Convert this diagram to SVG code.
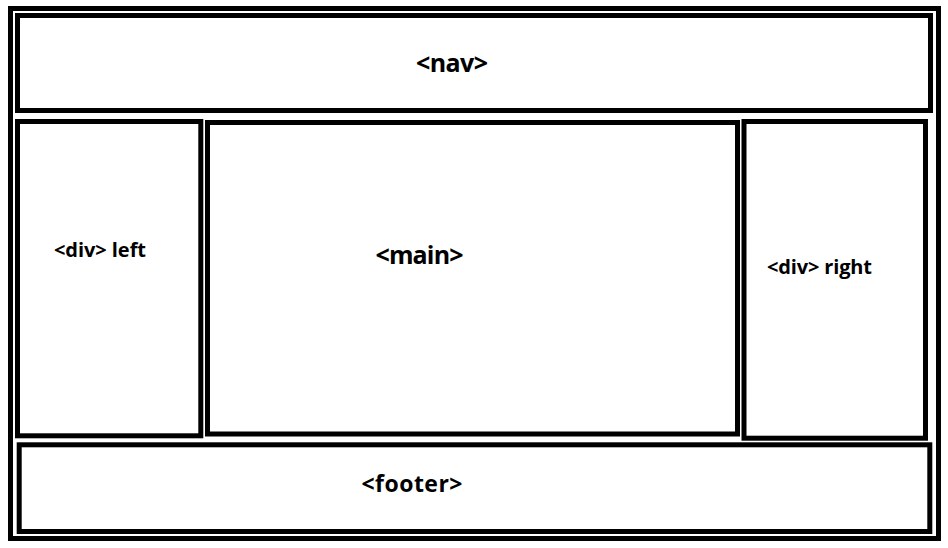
<svg xmlns="http://www.w3.org/2000/svg" width="948" height="548" viewBox="0 0 948 548">
<style>
.box{fill:none;stroke:#000;stroke-width:5}
.lbl{font-family:"Open Sans","Liberation Sans",sans-serif;font-weight:bold;fill:#000}
</style>
<rect width="948" height="548" fill="#fff"/>
<g id="page"><rect class="box" x="10.5" y="8.5" width="928" height="530"/></g>
<g id="nav"><rect class="box" x="17.5" y="15.5" width="913" height="95"/>
<text class="lbl" x="416" y="71.5" font-size="25" textLength="72">&lt;nav&gt;</text></g>
<g id="left"><rect class="box" x="17.5" y="121.5" width="183.3" height="314.3"/>
<text class="lbl" x="54" y="256.5" font-size="20" textLength="92">&lt;div&gt; left</text></g>
<g id="main"><rect class="box" x="207.5" y="122.5" width="530" height="311.5"/>
<text class="lbl" x="375.5" y="263.5" font-size="25" textLength="88">&lt;main&gt;</text></g>
<g id="right"><rect class="box" x="744" y="121.5" width="181.5" height="316.7"/>
<text class="lbl" x="767" y="274" font-size="20" textLength="105">&lt;div&gt; right</text></g>
<g id="footer"><rect class="box" x="19.2" y="444.8" width="910.6" height="86.7"/>
<text class="lbl" x="361.5" y="492" font-size="23" textLength="101">&lt;footer&gt;</text></g>
<g id="connectors"/>
</svg>
